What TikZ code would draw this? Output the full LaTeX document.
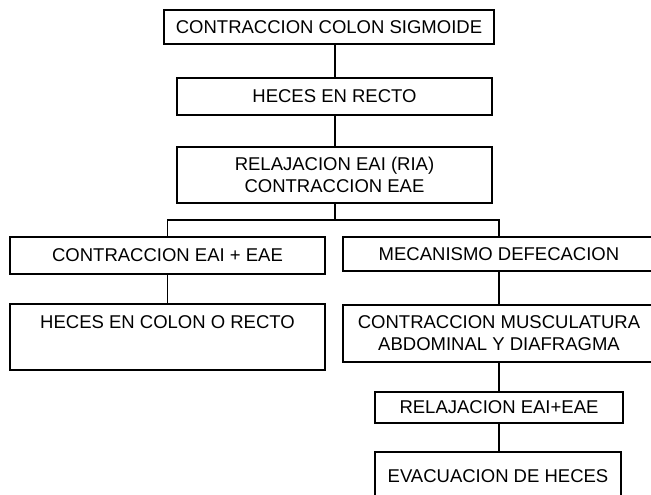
\documentclass[tikz,border=0pt]{standalone}
\usepackage{fontspec}
\setmainfont{Liberation Sans}
\begin{document}
\begin{tikzpicture}[x=1pt,y=-1pt,
  box/.style={draw=black, line width=1.2pt, inner sep=0pt, align=center,
    font=\fontsize{18.5}{22}\selectfont},
  conn/.style={draw=black, line width=1.2pt}]
\useasboundingbox (0,0) rectangle (651,495);
\node[box, minimum width=330, minimum height=34] (b1) at (329,27) {CONTRACCION COLON SIGMOIDE};
\node[box, minimum width=315, minimum height=37] (b2) at (334.5,96.5) {HECES EN RECTO};
\node[box, minimum width=315, minimum height=56] (b3) at (334.5,175) {RELAJACION EAI (RIA)\\CONTRACCION EAE};
\node[box, minimum width=315, minimum height=37] (b4) at (167.5,255.5) {CONTRACCION EAI + EAE};
\node[box, minimum width=312, minimum height=34] (b5) at (499,254) {MECANISMO DEFECACION};
\node[box, minimum width=315, minimum height=66] (b6) at (167.5,337) {\smash{\raisebox{8.6pt}{HECES EN COLON O RECTO}}};
\node[box, minimum width=312, minimum height=57] (b7) at (499,333.5) {CONTRACCION MUSCULATURA\\ABDOMINAL Y DIAFRAGMA};
\node[box, minimum width=248, minimum height=31] (b8) at (499,407.5) {RELAJACION EAI+EAE};
\node[box, minimum width=246, minimum height=48] (b9) at (498,476) {EVACUACION DE HECES};
\coordinate (j) at (335,220);
\draw[conn] (b1.south -| j) -- (b2.north -| j);
\draw[conn] (b2.south -| j) -- (b3.north -| j);
\draw[conn] (b3.south -| j) -- (j);
\draw[conn] (b4.north) |- (j) -| (b5.north);
\draw[conn] (b4.south) -- (b6.north);
\draw[conn] (b5.south) -- (b7.north);
\draw[conn] (b7.south) -- (b8.north);
\draw[conn] (b8.south) -- (b9.north -| b8.south);
\end{tikzpicture}
\end{document}
